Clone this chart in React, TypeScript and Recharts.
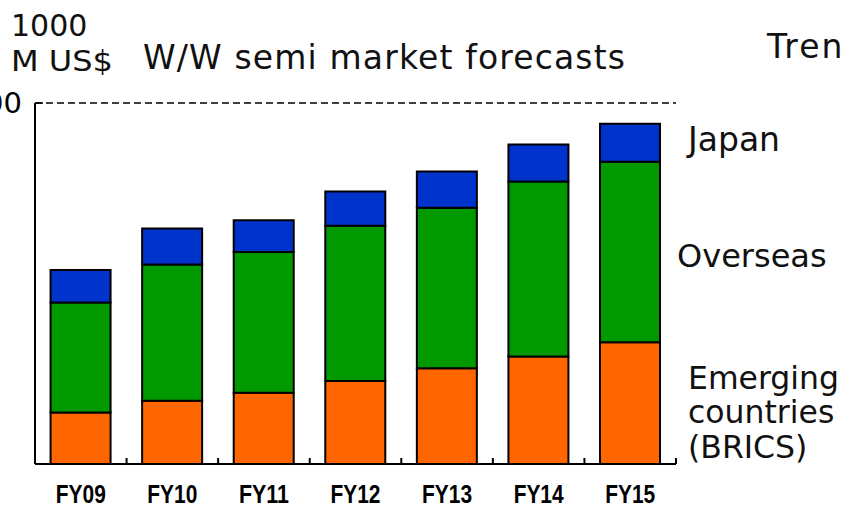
import React from 'react';
import { BarChart, Bar, XAxis, YAxis, ReferenceLine } from 'recharts';

const categories = ['FY09', 'FY10', 'FY11', 'FY12', 'FY13', 'FY14', 'FY15'];
const emerging = [57, 70, 79, 92, 106, 119, 135];
const overseas = [122, 151, 156, 172, 178, 194, 200];
const japan = [36, 40, 35, 38, 40, 41, 42];
const yTicks = [400];

const data = categories.map((c, i) => ({
  name: c,
  emerging: emerging[i],
  overseas: overseas[i],
  japan: japan[i],
}));

const W = 842;
const H = 507;

const XTick = (props: any) => {
  const { x, y, payload } = props;
  const off = payload && typeof payload.offset === 'number' && payload.offset > 0 ? payload.offset : 45.8;
  return (
    <g>
      <line x1={x + off} y1={y} x2={x + off} y2={y - 6} stroke="#000" strokeWidth={2} />
      <text
        x={x}
        y={y + 38.5}
        textAnchor="middle"
        fontFamily="'Liberation Sans', Arial, sans-serif"
        fontWeight="bold"
        fontSize={25.5}
        textLength={50}
        lengthAdjust="spacingAndGlyphs"
        fill="#000"
      >
        {payload.value}
      </text>
    </g>
  );
};

const YTick = (props: any) => {
  const { x, y, payload } = props;
  return (
    <g>
      <line x1={x + 13} y1={y} x2={x + 21} y2={y} stroke="#000" strokeWidth={1.5} />
      <text
        x={x}
        y={y}
        dy="0.36em"
        textAnchor="end"
        fontFamily="'DejaVu Sans', sans-serif"
        fontSize={29}
        fill="#000"
      >
        {payload.value}
      </text>
    </g>
  );
};

const font = "'DejaVu Sans', sans-serif";

export default function App() {
  return (
    <div style={{ position: 'absolute', left: 0, top: 0, width: W, height: H, overflow: 'hidden', background: '#fff' }}>
      <BarChart
        width={W}
        height={H}
        data={data}
        margin={{ top: 103, right: 166, bottom: 0, left: 0 }}
        barCategoryGap="17%"
      >
        <XAxis
          dataKey="name"
          height={43}
          tickLine={false}
          tickSize={0}
          tickMargin={0}
          axisLine={{ stroke: '#000', strokeWidth: 2 }}
          tick={<XTick />}
          interval={0}
        />
        <YAxis
          width={35}
          domain={[0, 400]}
          ticks={yTicks}
          tickLine={false}
          tickSize={0}
          tickMargin={13}
          axisLine={{ stroke: '#000', strokeWidth: 2 }}
          tick={<YTick />}
          allowDataOverflow
        />
        <ReferenceLine y={400} stroke="#000" strokeWidth={1.5} strokeDasharray="7 4" />
        <Bar dataKey="emerging" stackId="a" fill="#FF6600" stroke="#000" strokeWidth={2} isAnimationActive={false} />
        <Bar dataKey="overseas" stackId="a" fill="#009900" stroke="#000" strokeWidth={2} isAnimationActive={false} />
        <Bar dataKey="japan" stackId="a" fill="#0033CC" stroke="#000" strokeWidth={2} isAnimationActive={false} />
      </BarChart>
      <svg
        width={W}
        height={H}
        style={{ position: 'absolute', left: 0, top: 0, pointerEvents: 'none' }}
      >
        <g fontFamily={font} fill="#111">
          <text x={11} y={36} fontSize={30}>1000</text>
          <text x={11} y={71} fontSize={29} textLength={102} lengthAdjust="spacingAndGlyphs">M US$</text>
          <text x={143} y={69} fontSize={33} textLength={482} lengthAdjust="spacing">W/W semi market forecasts</text>
          <text x={767} y={58} fontSize={33} letterSpacing={2}>Trends</text>
          <text x={688} y={151} fontSize={33}>Japan</text>
          <text x={677} y={267} fontSize={32}>Overseas</text>
          <text x={688} y={389} fontSize={31.5}>Emerging</text>
          <text x={688} y={423} fontSize={31.5}>countries</text>
          <text x={688} y={458} fontSize={31.5}>(BRICS)</text>
        </g>
      </svg>
    </div>
  );
}
